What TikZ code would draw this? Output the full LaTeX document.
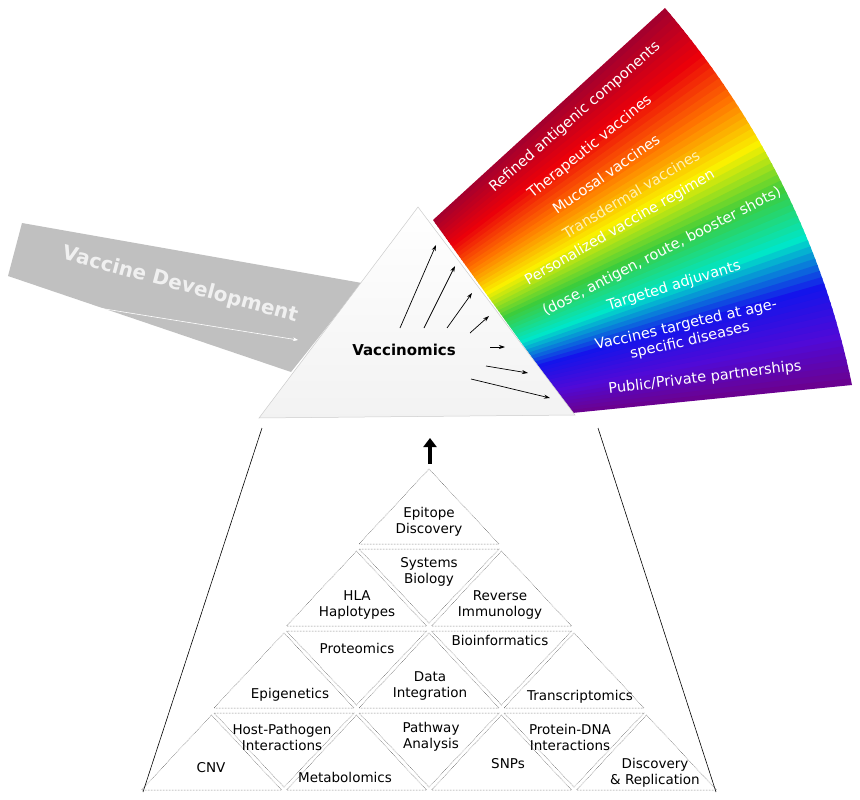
\documentclass[tikz,border=0pt]{standalone}
\usepackage{fontspec}
\setmainfont{DejaVu Sans}
\usetikzlibrary{calc}
\usetikzlibrary{arrows.meta}

\definecolor{beam}{RGB}{192,192,192}
\definecolor{rb0}{RGB}{165,0,45}
\definecolor{rb1}{RGB}{235,0,10}
\definecolor{rb2}{RGB}{255,115,0}
\definecolor{rb3}{RGB}{250,240,0}
\definecolor{rb4}{RGB}{60,205,60}
\definecolor{rb5}{RGB}{0,230,200}
\definecolor{rb6}{RGB}{20,20,235}
\definecolor{rb7}{RGB}{80,10,215}
\definecolor{rb8}{RGB}{110,0,135}
\definecolor{paleyellow}{RGB}{255,240,180}

\tikzset{
  cell/.style={draw=black!70, densely dotted, line width=0.5pt},
  celltext/.style={align=center, font=\fontsize{13.5}{16}\selectfont, inner sep=0pt},
  raytext/.style={text=white, align=center, font=\fontsize{14.5}{16.5}\selectfont, inner sep=0pt},
  ray/.style={-{Stealth[length=6pt, width=4pt]}, line width=0.7pt}
}

\begin{document}
\begin{tikzpicture}[x=1pt, y=-1pt]
  \useasboundingbox (0, 0) rectangle (860, 800);
  % incoming beam
  \fill[beam] (22, 223) -- (362, 283) -- (291, 372) -- (8, 276) -- cycle;
  \node[rotate=-15, text=white!94!black, font=\fontsize{20}{22}\selectfont\bfseries]
    (dev) at (180, 285) {Vaccine Development};
  \coordinate (devs) at (55, 301);
  \coordinate (deve) at (298, 340);
  \draw[-{Stealth[length=5pt]}, white, line width=0.6pt] (devs) -- (deve);
  % spectrum, strip by strip
  \foreach \k/\ca/\cb in {0/rb0/rb1, 1/rb1/rb2, 2/rb2/rb3, 3/rb3/rb4,
                          4/rb4/rb5, 5/rb5/rb6, 6/rb6/rb7, 7/rb7/rb8}{
    \foreach \j in {0, ..., 7}{
      \pgfmathsetmacro{\ta}{(\k*8+\j)/64}
      \pgfmathsetmacro{\tb}{min(1, (\k*8+\j+1.3)/64)}
      \pgfmathsetmacro{\mix}{100-\j*12.5}
      \pgfmathsetmacro{\oxa}{665+187*\ta+100*\ta*(1-\ta)}
      \pgfmathsetmacro{\oya}{8+377*\ta-40*\ta*(1-\ta)}
      \pgfmathsetmacro{\oxb}{665+187*\tb+100*\tb*(1-\tb)}
      \pgfmathsetmacro{\oyb}{8+377*\tb-40*\tb*(1-\tb)}
      \fill[\ca!\mix!\cb]
        ($(433, 220)!\ta!(572, 413)$) -- (\oxa, \oya) --
        (\oxb, \oyb) -- ($(433, 220)!\tb!(572, 413)$) -- cycle;
    }
  }
  \node[raytext, rotate=41] (r1) at (575, 117) {Refined antigenic components};
  \node[raytext, rotate=39] (r2) at (590, 147) {Therapeutic vaccines};
  \node[raytext, rotate=35] (r3) at (606, 174) {Mucosal vaccines};
  \node[raytext, rotate=31, text=paleyellow] (r4) at (631, 194) {Transdermal vaccines};
  \node[raytext, rotate=30] (r5) at (620, 228) {Personalized vaccine regimen};
  \node[raytext, rotate=27] (r6) at (662, 252) {(dose, antigen, route, booster shots)};
  \node[raytext, rotate=17] (r7) at (674, 286) {Targeted adjuvants};
  \node[raytext, rotate=13] (r8) at (688, 333) {Vaccines targeted at age-\\specific diseases};
  \node[raytext, rotate=7] (r9) at (705, 378) {Public/Private partnerships};
  % prism
  \coordinate (top) at (418, 207);
  \coordinate (bl) at (259, 418);
  \coordinate (br) at (575, 415);
  \shade[top color=white, bottom color=black!5, draw=black!20, line width=0.5pt]
    (top) -- (br) -- (bl) -- cycle;
  \node[font=\fontsize{15}{17}\selectfont\bfseries] (vac) at (404, 350) {Vaccinomics};
  \foreach \sx/\sy/\ex/\ey in {400/328/436/245, 424/328/455/266, 447/328/472/293,
                               470/333/489/316, 490/347/505/347, 486/366/528/373,
                               471/379/550/398}{
    \coordinate (s) at (\sx, \sy);
    \coordinate (e) at (\ex, \ey);
    \draw[ray] (s) -- (e);
  }
  % pyramid of methods
  \draw[line width=0.6pt] (262, 428) -- (143, 792);
  \draw[line width=0.6pt] (598, 428) -- (716, 792);
  \coordinate (up0) at (430, 464);
  \coordinate (up1) at (430, 438);
  \draw[-{Triangle[length=9pt, width=13pt]}, line width=4pt] (up0) -- (up1);
  \foreach \r in {0, 1, 2, 3}{
    \pgfmathsetmacro{\by}{544+82*\r}
    \pgfmathsetmacro{\ay}{\by-75}
    \pgfmathsetmacro{\ty}{\by-77}
    \pgfmathsetmacro{\vy}{\by-3}
    \foreach \i in {0, ..., \r}{
      \pgfmathsetmacro{\ax}{429+(\i-\r/2)*145}
      \draw[cell] (\ax, \ay) -- ({\ax+70}, \by) -- ({\ax-70}, \by) -- cycle;
    }
    \ifnum\r>0
      \foreach \i in {1, ..., \r}{
        \pgfmathsetmacro{\cx}{429+(\i-\r/2-0.5)*145}
        \draw[cell] ({\cx-70}, \ty) -- ({\cx+70}, \ty) -- (\cx, \vy) -- cycle;
      }
    \fi
  }
  \node[celltext] (epi) at (429, 522) {Epitope\\Discovery};
  \node[celltext] (sys) at (429, 572) {Systems\\Biology};
  \node[celltext] (hla) at (357, 605) {HLA\\Haplotypes};
  \node[celltext] (rev) at (500, 605) {Reverse\\Immunology};
  \node[celltext] (prot) at (357, 648) {Proteomics};
  \node[celltext] (bio) at (500, 640) {Bioinformatics};
  \node[celltext] (epig) at (290, 695) {Epigenetics};
  \node[celltext] (data) at (430, 686) {Data\\Integration};
  \node[celltext] (trans) at (580, 697) {Transcriptomics};
  \node[celltext] (host) at (282, 737) {Host-Pathogen\\Interactions};
  \node[celltext] (path) at (431, 737) {Pathway\\Analysis};
  \node[celltext] (pdna) at (570, 737) {Protein-DNA\\Interactions};
  \node[celltext] (cnv) at (211, 768) {CNV};
  \node[celltext] (meta) at (345, 777) {Metabolomics};
  \node[celltext] (snp) at (508, 764) {SNPs};
  \node[celltext] (disc) at (655, 773) {Discovery\\\& Replication};
\end{tikzpicture}
\end{document}
